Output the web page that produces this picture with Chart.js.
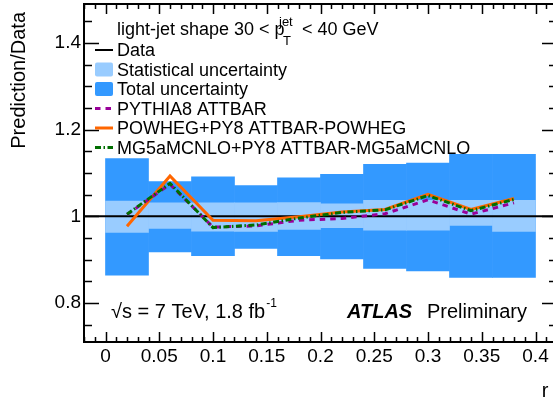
<!DOCTYPE html>
<html>
<head>
<meta charset="utf-8">
<script src="https://cdn.jsdelivr.net/npm/chart.js@4.4.1/dist/chart.umd.min.js"></script>
<style>
html, body { margin: 0; padding: 0; background: #fff; overflow: hidden; }
#wrap { width: 553px; height: 401px; overflow: hidden; }
canvas { display: block; }
</style>
</head>
<body>
<div id="wrap"><canvas id="myChart" width="557" height="401"></canvas></div>
<script>
// bins of r, 0.04 wide, given by their centres
const rCenters = [0.02, 0.06, 0.10, 0.14, 0.18, 0.22, 0.26, 0.30, 0.34, 0.38];

// uncertainty bands (ratio to data)
const statLow   = [0.963, 0.972, 0.966, 0.965, 0.970, 0.974, 0.968, 0.968, 0.979, 0.965];
const statHigh  = [1.035, 1.031, 1.031, 1.031, 1.032, 1.029, 1.037, 1.037, 1.037, 1.037];
const totalLow  = [0.864, 0.918, 0.909, 0.926, 0.909, 0.902, 0.880, 0.874, 0.859, 0.859];
const totalHigh = [1.133, 1.080, 1.091, 1.071, 1.089, 1.097, 1.120, 1.123, 1.143, 1.143];

// predictions / data
const pythia = [1.004, 1.074, 0.975, 0.978, 0.991, 0.995, 1.006, 1.038, 1.005, 1.031];
const powheg = [0.977, 1.093, 0.991, 0.990, 0.999, 1.010, 1.016, 1.051, 1.016, 1.041];
const mg5    = [1.005, 1.076, 0.974, 0.980, 0.996, 1.009, 1.015, 1.048, 1.013, 1.039];

// data reference line
const dataRange = [-0.02, 0.42];
const dataRatio = [1, 1];

// axes
const xRange = [-0.02, 0.42];
const yRange = [0.71, 1.49];
const xTickValues = [0, 0.05, 0.1, 0.15, 0.2, 0.25, 0.3, 0.35, 0.4];
const xTickLabels = ['0', '0.05', '0.1', '0.15', '0.2', '0.25', '0.3', '0.35', '0.4'];
const yTickValues = [0.8, 1.0, 1.2, 1.4];
const yTickLabels = ['0.8', '1', '1.2', '1.4'];

const FONT = '"Liberation Sans", Arial, Helvetica, sans-serif';
const darkBlue = '#3399ff';
const lightBlue = '#99ccff';
const purple = '#990099';
const orange = '#ff6600';
const green = '#006e00';

function pts(ys) {
    return rCenters.map((r, i) => ({ x: r, y: ys[i] }));
}
function band(lo, hi) {
    return rCenters.map((r, i) => ({ x: r, y: [lo[i], hi[i]] }));
}

// frame, ROOT style inner ticks, legend and labels
const decorations = {
    id: 'decorations',
    afterDraw(chart) {
        const ctx = chart.ctx;
        const a = chart.chartArea;
        const xs = chart.scales.x;
        const ys = chart.scales.y;
        ctx.save();
        ctx.strokeStyle = '#000';
        ctx.lineWidth = 1.5;
        ctx.beginPath();
        for (let i = -2; i <= 42; i++) {
            const px = Math.round(xs.getPixelForValue(i / 100)) + 0.5;
            const len = i % 5 === 0 ? 10 : 5;
            ctx.moveTo(px, a.bottom); ctx.lineTo(px, a.bottom - len);
            ctx.moveTo(px, a.top); ctx.lineTo(px, a.top + len);
        }
        for (let i = 75; i <= 145; i += 5) {
            const py = Math.round(ys.getPixelForValue(i / 100)) + 0.5;
            const len = i % 20 === 0 ? 15 : 8;
            ctx.moveTo(a.left, py); ctx.lineTo(a.left + len, py);
            ctx.moveTo(a.right, py); ctx.lineTo(a.right - len, py);
        }
        ctx.stroke();
        ctx.lineWidth = 2;
        ctx.strokeRect(a.left, a.top, a.right - a.left, a.bottom - a.top);

        // axis titles
        ctx.fillStyle = '#000';
        ctx.font = '20px ' + FONT;
        ctx.textBaseline = 'alphabetic';
        ctx.save();
        ctx.translate(25, 12);
        ctx.rotate(-Math.PI / 2);
        ctx.textAlign = 'right';
        ctx.fillText('Prediction/Data', 0, 0);
        ctx.restore();
        ctx.textAlign = 'right';
        ctx.fillText('r', 548.5, 397);

        // legend header
        ctx.textAlign = 'left';
        ctx.font = '18px ' + FONT;
        ctx.fillText('light-jet shape 30 < p', 117, 35);
        ctx.font = '13px ' + FONT;
        ctx.fillText('jet', 279, 26);
        ctx.fillText('T', 283, 45);
        ctx.font = '18px ' + FONT;
        ctx.fillText('< 40 GeV', 302, 35);

        // legend entries, taken from the datasets
        const order = ['Data', 'Statistical uncertainty', 'Total uncertainty',
            'PYTHIA8 ATTBAR', 'POWHEG+PY8 ATTBAR-POWHEG', 'MG5aMCNLO+PY8 ATTBAR-MG5aMCNLO'];
        order.forEach((label, k) => {
            const ds = chart.data.datasets.find(d => d.label === label);
            const base = 56 + k * 19.5;
            const cy = base - 6;
            if (ds.type === 'bar') {
                ctx.fillStyle = ds.backgroundColor;
                ctx.beginPath();
                ctx.roundRect(95, cy - 7, 18, 14, 2);
                ctx.fill();
            } else {
                ctx.strokeStyle = ds.borderColor;
                ctx.lineWidth = ds.borderWidth;
                ctx.setLineDash(ds.borderDash || []);
                ctx.beginPath();
                ctx.moveTo(95, cy);
                ctx.lineTo(113, cy);
                ctx.stroke();
                ctx.setLineDash([]);
            }
            ctx.fillStyle = '#000';
            ctx.font = '18px ' + FONT;
            ctx.fillText(label, 117, base);
        });

        // energy / luminosity
        ctx.font = '20px ' + FONT;
        const s1 = '\u221As = 7 TeV, 1.8 fb';
        ctx.fillText(s1, 111, 318);
        const w1 = ctx.measureText(s1).width;
        ctx.font = '12px ' + FONT;
        ctx.fillText('-1', 111 + w1 + 1, 307);

        ctx.font = 'italic bold 20px ' + FONT;
        ctx.fillText('ATLAS', 347, 318);
        ctx.font = '20px ' + FONT;
        ctx.fillText('Preliminary', 427, 318);
        ctx.restore();
    }
};

const myChart = new Chart(document.getElementById('myChart').getContext('2d'), {
    type: 'bar',
    data: {
        datasets: [
            {
                type: 'line', label: 'MG5aMCNLO+PY8 ATTBAR-MG5aMCNLO', data: pts(mg5),
                borderColor: green, borderWidth: 3, borderDash: [6, 2.5, 1.5, 2.5],
                pointRadius: 0, tension: 0, order: 1
            },
            {
                type: 'line', label: 'PYTHIA8 ATTBAR', data: pts(pythia),
                borderColor: purple, borderWidth: 3, borderDash: [5.5, 5],
                pointRadius: 0, tension: 0, order: 2
            },
            {
                type: 'line', label: 'POWHEG+PY8 ATTBAR-POWHEG', data: pts(powheg),
                borderColor: orange, borderWidth: 3,
                pointRadius: 0, tension: 0, order: 3
            },
            {
                type: 'line', label: 'Data',
                data: dataRange.map((x, i) => ({ x: x, y: dataRatio[i] })),
                borderColor: '#000', borderWidth: 2,
                pointRadius: 0, order: 4
            },
            {
                type: 'bar', label: 'Statistical uncertainty', data: band(statLow, statHigh),
                backgroundColor: lightBlue, borderWidth: 0, grouped: false,
                barPercentage: 1, categoryPercentage: 1, order: 5
            },
            {
                type: 'bar', label: 'Total uncertainty', data: band(totalLow, totalHigh),
                backgroundColor: darkBlue, borderWidth: 0, grouped: false,
                barPercentage: 1, categoryPercentage: 1, order: 6
            }
        ]
    },
    options: {
        responsive: false,
        animation: false,
        devicePixelRatio: 1,
        layout: { padding: { top: 4, left: 0, right: 0, bottom: 0 } },
        plugins: { legend: { display: false }, tooltip: { enabled: false } },
        scales: {
            x: {
                type: 'linear', min: xRange[0], max: xRange[1], offset: false,
                grid: { display: false, drawTicks: false, offset: false },
                border: { display: false },
                afterBuildTicks: s => { s.ticks = xTickValues.map(v => ({ value: v })); },
                afterFit: s => { s.height = 59; s.paddingLeft = 0; s.paddingRight = 0; },
                ticks: {
                    autoSkip: false, maxRotation: 0, padding: 3, color: '#000',
                    font: { family: FONT, size: 19 },
                    callback: (v, i) => xTickLabels[i]
                }
            },
            y: {
                type: 'linear', min: yRange[0], max: yRange[1],
                grid: { display: false, drawTicks: false },
                border: { display: false },
                afterBuildTicks: s => { s.ticks = yTickValues.map(v => ({ value: v })); },
                afterFit: s => { s.width = 84; s.paddingTop = 0; s.paddingBottom = 0; },
                ticks: {
                    autoSkip: false, padding: 3, color: '#000',
                    font: { family: FONT, size: 19 },
                    callback: (v, i) => yTickLabels[i]
                }
            }
        }
    },
    plugins: [decorations]
});
</script>
</body>
</html>
